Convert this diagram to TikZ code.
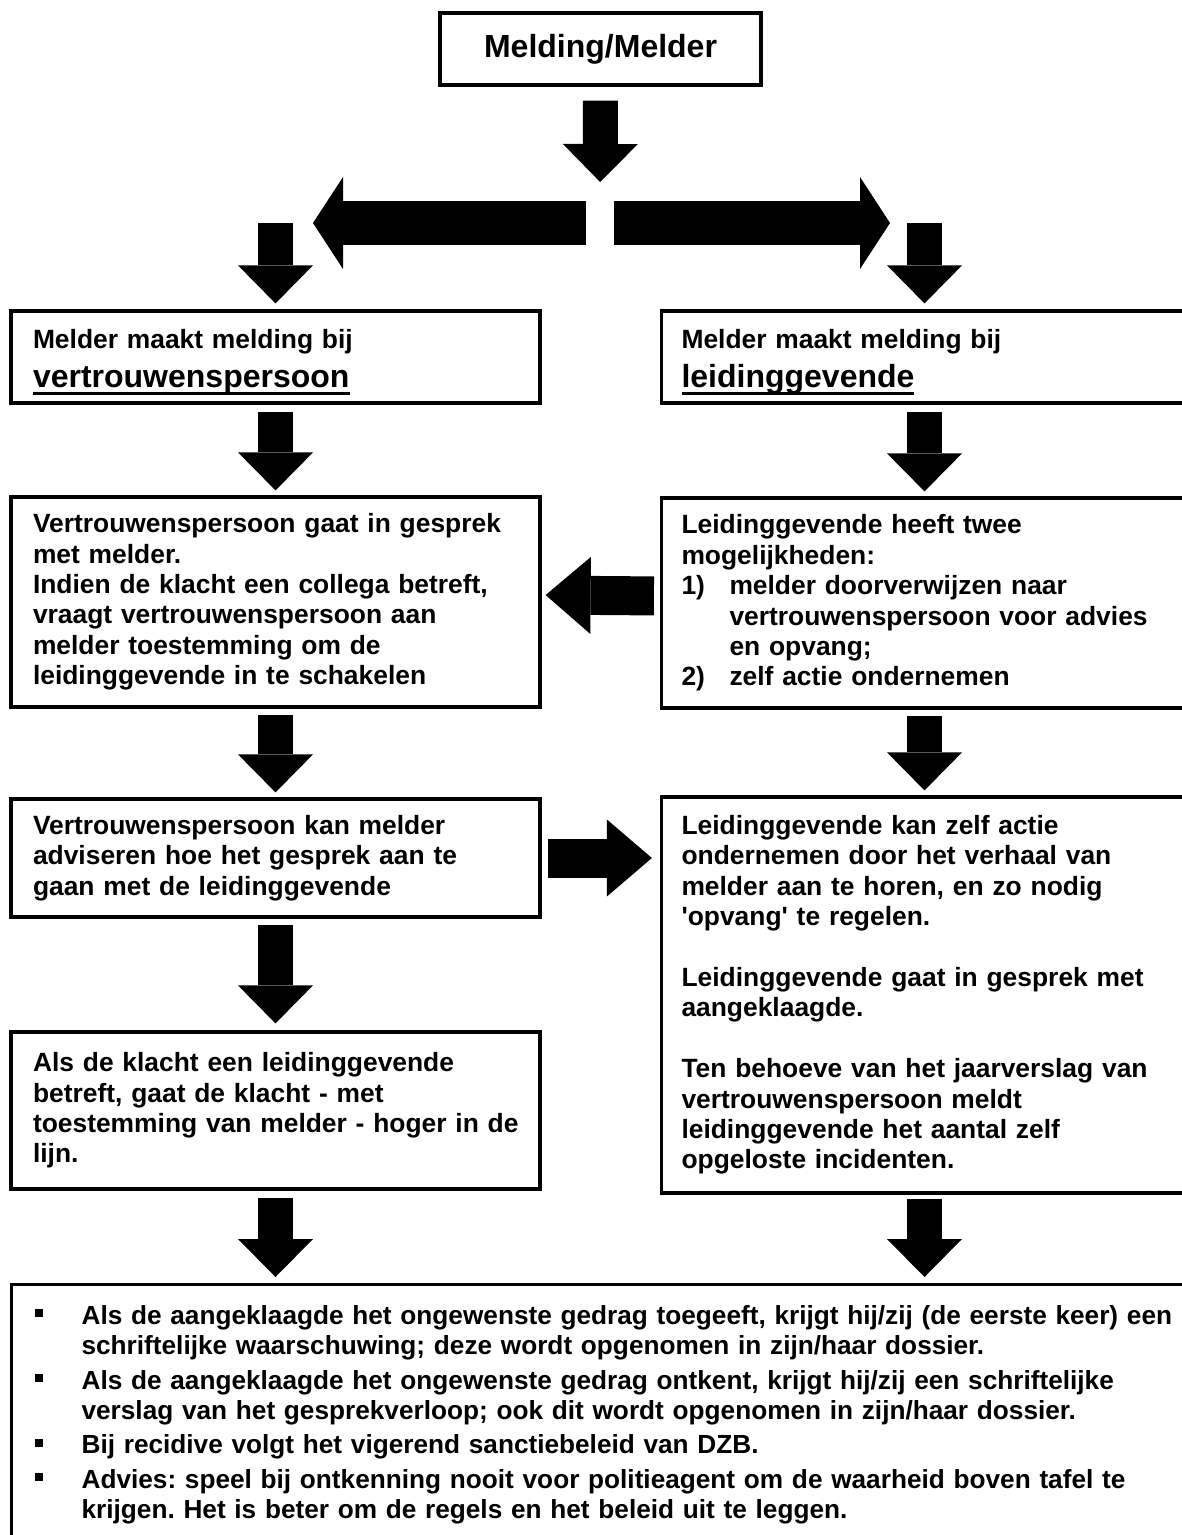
\documentclass[tikz,border=0pt]{standalone}
\usepackage{fontspec}
\setmainfont{Liberation Sans}[Ligatures=TeXOff]
\usetikzlibrary{arrows.meta}

\newcommand{\bodyfont}{\fontsize{13.2}{15.2}\selectfont\bfseries\frenchspacing}
\newcommand{\bigul}[1]{{\fontsize{16}{18}\selectfont\vtop{\hbox{#1}\kern-1.2pt\hrule height 1.6pt}}}
\newcommand{\vstrut}{\rule{0pt}{14.4pt}}
\newcommand{\sqbul}{\makebox[23.5pt][l]{\rule[3.5pt]{4pt}{4pt}}}
\newcommand{\hang}{\hspace*{23.5pt}}
\newcommand{\numitem}[1]{\makebox[24pt][l]{#1}}

\tikzset{
  box/.style={draw, line width=1.6pt, align=left, font=\bodyfont},
  lbox/.style={box, text width=242.5pt, inner xsep=11pt},
  rbox/.style={box, text width=243pt, inner xsep=10pt},
  fatdown/.style={line width=17.5pt, -{Triangle[width=37.5pt,length=19pt,line width=0pt]}},
  fatside/.style={line width=19.5pt, -{Triangle[width=38.5pt,length=22.5pt,line width=0pt]}},
  fatsplit/.style={line width=22pt, -{Triangle[width=46pt,length=15pt,line width=0pt]}},
}

\begin{document}
\begin{tikzpicture}[x=0.5pt, y=-0.5pt]
    \useasboundingbox (0,0) rectangle (1182,1535);

    \node[draw, line width=1.6pt, minimum width=160.5pt, minimum height=36pt,
          font=\fontsize{16}{19}\selectfont\bfseries] (melding) at (600.5,49) {Melding/Melder};

    \coordinate (split) at (600,223);
    \coordinate (tipL) at (313,223);
    \coordinate (tipR) at (890,223);

    \node[lbox, minimum height=46pt] (L1) at (275.5,357) {\vstrut Melder maakt melding bij\\[1.6pt]\bigul{vertrouwenspersoon}};
    \node[rbox, minimum height=46pt] (R1) at (924.5,357) {\vstrut Melder maakt melding bij\\[1.6pt]\bigul{leidinggevende}};

    \node[lbox, minimum height=105pt] (L2) at (275.5,602) {Vertrouwenspersoon gaat in gesprek\\
        met melder.\\
        Indien de klacht een collega betreft,\\
        vraagt vertrouwenspersoon aan\\
        melder toestemming om de\\
        leidinggevende in te schakelen};
    \node[rbox, minimum height=105pt] (R2) at (924.5,603) {Leidinggevende heeft twee\\
        mogelijkheden:\\
        \numitem{1)}melder doorverwijzen naar\\
        \hspace*{24pt}vertrouwenspersoon voor advies\\
        \hspace*{24pt}en opvang;\\
        \numitem{2)}zelf actie ondernemen};

    \node[lbox, minimum height=59pt] (L3) at (275.5,858) {Vertrouwenspersoon kan melder\\
        adviseren hoe het gesprek aan te\\
        gaan met de leidinggevende};
    \node[rbox, minimum height=198pt] (R3) at (924.5,995) {Leidinggevende kan zelf actie\\
        ondernemen door het verhaal van\\
        melder aan te horen, en zo nodig\\
        'opvang' te regelen.\\[15.2pt]
        Leidinggevende gaat in gesprek met\\
        aangeklaagde.\\[15.2pt]
        Ten behoeve van het jaarverslag van\\
        vertrouwenspersoon meldt\\
        leidinggevende het aantal zelf\\
        opgeloste incidenten.};

    \node[lbox, minimum height=78.5pt] (L4) at (275.5,1110.5) {Als de klacht een leidinggevende\\
        betreft, gaat de klacht - met\\
        \mbox{toestemming van melder - hoger in de}\\
        lijn.};

    \node[draw, line width=1.6pt, align=left, text width=575pt, inner xsep=11.5pt, inner ysep=10.3pt,
          anchor=north west, font=\fontsize{13.1}{15.2}\selectfont\bfseries\frenchspacing] (bot) at (10,1283) {%
        \sqbul Als de aangeklaagde het ongewenste gedrag toegeeft, krijgt hij/zij (de eerste keer) een\\
        \hang schriftelijke waarschuwing; deze wordt opgenomen in zijn/haar dossier.\\[2pt]
        \sqbul Als de aangeklaagde het ongewenste gedrag ontkent, krijgt hij/zij een schriftelijke\\
        \hang verslag van het gesprekverloop; ook dit wordt opgenomen in zijn/haar dossier.\\[2pt]
        \sqbul Bij recidive volgt het vigerend sanctiebeleid van DZB.\\[2pt]
        \sqbul Advies: speel bij ontkenning nooit voor politieagent om de waarheid boven tafel te\\
        \hang krijgen. Het is beter om de regels en het beleid uit te leggen.};

    \draw[fatdown, shorten <=7pt, shorten >=20.5pt] (melding.south) -- (split);
    \draw[fatsplit, shorten <=7pt] (split) -- (tipL);
    \draw[fatsplit, shorten <=7pt] (split) -- (tipR);
    \draw[fatdown, shorten >=3pt] (L1.north |- split) -- (L1.north);
    \draw[fatdown, shorten >=3pt] (R1.north |- split) -- (R1.north);

    \draw[fatdown, shorten <=3.5pt, shorten >=2.5pt] (L1.south) -- (L2.north);
    \draw[fatdown, shorten <=3.5pt, shorten >=2.5pt] (R1.south) -- (R2.north);
    \draw[fatside, shorten <=3pt, shorten >=2pt] ([yshift=3.5pt]R2.west) -- ([yshift=3.5pt]L2.east);
    \draw[fatdown, shorten <=3pt, shorten >=2.5pt] (L2.south) -- (L3.north);
    \draw[fatdown, shorten <=3pt, shorten >=2.5pt] (R2.south) -- (R3.north);
    \draw[fatside, shorten <=3pt, shorten >=4pt] (L3.east) -- (L3.east -| R3.west);
    \draw[fatdown, shorten <=3pt, shorten >=3.5pt] (L3.south) -- (L4.north);
    \draw[fatdown, shorten <=3.5pt, shorten >=3pt] (L4.south) -- (L4.south |- bot.north);
    \draw[fatdown, shorten <=2pt, shorten >=3pt] (R3.south) -- (R3.south |- bot.north);
\end{tikzpicture}
\end{document}
